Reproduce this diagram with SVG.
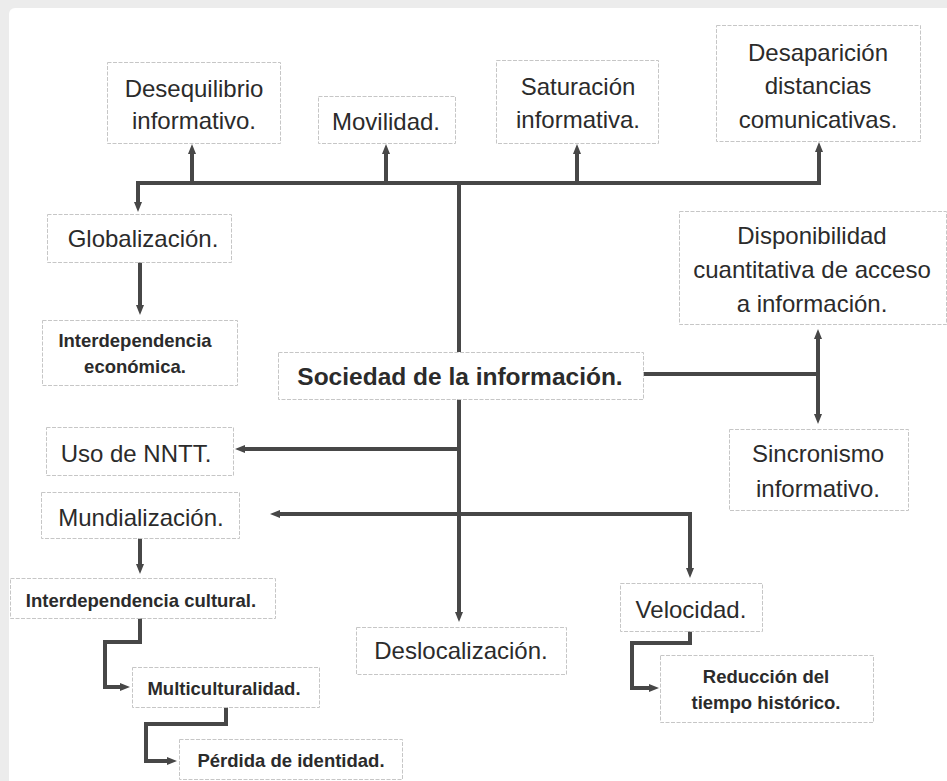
<svg xmlns="http://www.w3.org/2000/svg" width="947" height="781" viewBox="0 0 947 781">
  <style>
    .box { fill: #ffffff; stroke: #c6c6c6; stroke-width: 1; stroke-dasharray: 4 1.5; }
    .t { font-family: "Liberation Sans", Arial, sans-serif; font-size: 24px; fill: #2b2b2b; text-anchor: middle; }
    .b { font-family: "Liberation Sans", Arial, sans-serif; font-size: 18.5px; font-weight: bold; fill: #2b2b2b; text-anchor: middle; }
    .big { font-size: 24.5px; }
    .c { fill: none; stroke: #474747; stroke-width: 4; stroke-linejoin: miter; }
  </style>
  <defs>
    <marker id="arr" viewBox="0 0 10 8" refX="1" refY="4" markerWidth="10" markerHeight="8" markerUnits="userSpaceOnUse" orient="auto-start-reverse">
      <path d="M0,0 L10,4 L0,8 z" fill="#474747"/>
    </marker>
  </defs>

  <!-- page frame -->
  <rect x="0" y="0" width="947" height="781" fill="#ececec"/>
  <rect x="9" y="8" width="950" height="790" rx="6" fill="#ffffff"/>

  <!-- connectors -->
  <g id="connectors">
    <path class="c" d="M138 183 H819"/>
    <path class="c" d="M192 183 V153" marker-end="url(#arr)"/>
    <path class="c" d="M386 183 V153" marker-end="url(#arr)"/>
    <path class="c" d="M577 183 V153" marker-end="url(#arr)"/>
    <path class="c" d="M819 185 V151" marker-end="url(#arr)"/>
    <path class="c" d="M138 181 V203" marker-end="url(#arr)"/>
    <path class="c" d="M459 181 V352"/>
    <path class="c" d="M140 262 V306" marker-end="url(#arr)"/>
    <path class="c" d="M643 374 H818"/>
    <path class="c" d="M818 338 V415" marker-start="url(#arr)" marker-end="url(#arr)"/>
    <path class="c" d="M459 399 V613" marker-end="url(#arr)"/>
    <path class="c" d="M459 449 H244" marker-end="url(#arr)"/>
    <path class="c" d="M690 514 H279" marker-end="url(#arr)"/>
    <path class="c" d="M690 512 V569" marker-end="url(#arr)"/>
    <path class="c" d="M140 538 V565" marker-end="url(#arr)"/>
    <path class="c" d="M140 618 V642 H105 V687 H121" marker-end="url(#arr)"/>
    <path class="c" d="M226 707 V724 H146 V761 H168" marker-end="url(#arr)"/>
    <path class="c" d="M690 631 V643 H632 V688 H650" marker-end="url(#arr)"/>
  </g>

  <!-- nodes -->
  <g id="desequilibrio">
    <rect class="box" x="107.5" y="62.5" width="173" height="81"/>
    <text class="t" x="194" y="97">Desequilibrio</text>
    <text class="t" x="194" y="129">informativo.</text>
  </g>
  <g id="movilidad">
    <rect class="box" x="318.5" y="96.5" width="137" height="47"/>
    <text class="t" x="386" y="130">Movilidad.</text>
  </g>
  <g id="saturacion">
    <rect class="box" x="496.5" y="60.5" width="162" height="83"/>
    <text class="t" x="578" y="95">Saturación</text>
    <text class="t" x="578" y="128">informativa.</text>
  </g>
  <g id="desaparicion">
    <rect class="box" x="716.5" y="25.5" width="204" height="116"/>
    <text class="t" x="818" y="61">Desaparición</text>
    <text class="t" x="818" y="94">distancias</text>
    <text class="t" x="818" y="128">comunicativas.</text>
  </g>
  <g id="globalizacion">
    <rect class="box" x="47.5" y="214.5" width="184" height="48"/>
    <text class="t" x="143" y="247">Globalización.</text>
  </g>
  <g id="interdependencia-economica">
    <rect class="box" x="42.5" y="320.5" width="195" height="65"/>
    <text class="b" x="135" y="347">Interdependencia</text>
    <text class="b" x="135" y="373">económica.</text>
  </g>
  <g id="sociedad">
    <rect class="box" x="278.5" y="352.5" width="365" height="47"/>
    <text class="b big" x="460" y="385">Sociedad de la información.</text>
  </g>
  <g id="disponibilidad">
    <rect class="box" x="679.5" y="211.5" width="267" height="113"/>
    <text class="t" x="812" y="244">Disponibilidad</text>
    <text class="t" x="812" y="278">cuantitativa de acceso</text>
    <text class="t" x="812" y="312">a información.</text>
  </g>
  <g id="sincronismo">
    <rect class="box" x="729.5" y="429.5" width="179" height="81"/>
    <text class="t" x="818" y="462">Sincronismo</text>
    <text class="t" x="818" y="497">informativo.</text>
  </g>
  <g id="uso-nntt">
    <rect class="box" x="46.5" y="427.5" width="187" height="48"/>
    <text class="t" x="136" y="462">Uso de NNTT.</text>
  </g>
  <g id="mundializacion">
    <rect class="box" x="41.5" y="492.5" width="198" height="46"/>
    <text class="t" x="141" y="526">Mundialización.</text>
  </g>
  <g id="interdependencia-cultural">
    <rect class="box" x="10.5" y="578.5" width="265" height="40"/>
    <text class="b" x="141" y="607">Interdependencia cultural.</text>
  </g>
  <g id="multiculturalidad">
    <rect class="box" x="132.5" y="667.5" width="187" height="40"/>
    <text class="b" x="224" y="695">Multiculturalidad.</text>
  </g>
  <g id="perdida-identidad">
    <rect class="box" x="179.5" y="739.5" width="223" height="40"/>
    <text class="b" x="291" y="767">Pérdida de identidad.</text>
  </g>
  <g id="deslocalizacion">
    <rect class="box" x="356.5" y="627.5" width="210" height="47"/>
    <text class="t" x="461" y="659">Deslocalización.</text>
  </g>
  <g id="velocidad">
    <rect class="box" x="620.5" y="583.5" width="142" height="48"/>
    <text class="t" x="691" y="618">Velocidad.</text>
  </g>
  <g id="reduccion">
    <rect class="box" x="660.5" y="655.5" width="213" height="67"/>
    <text class="b" x="766" y="683">Reducción del</text>
    <text class="b" x="766" y="709">tiempo histórico.</text>
  </g>
</svg>
